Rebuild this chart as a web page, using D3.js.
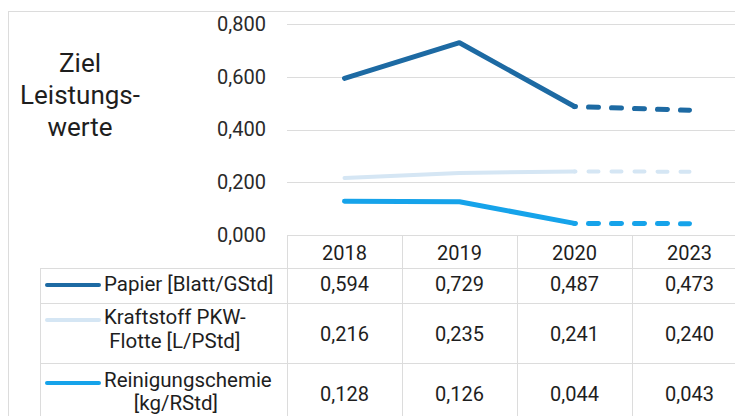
<!DOCTYPE html>
<html><head><meta charset="utf-8">
<script src="https://cdn.jsdelivr.net/npm/d3@7"></script>
<style>
html,body{margin:0;padding:0;background:#fff;}
svg{display:block;font-family:Roboto, "Noto Sans", sans-serif;}
</style></head>
<body>
<svg id="c" width="735" height="416"></svg>
<script>
const categories = ["2018","2019","2020","2023"];
const seriesNames = ["Papier [Blatt/GStd]", "Kraftstoff PKW-\nFlotte [L/PStd]", "Reinigungschemie\n[kg/RStd]"];
const papier = [0.594, 0.729, 0.487, 0.473];
const kraftstoff = [0.216, 0.235, 0.241, 0.240];
const reinigung = [0.128, 0.126, 0.044, 0.043];
const yTicks = [0, 0.2, 0.4, 0.6, 0.8];
const titleLines = ["Ziel", "Leistungs-", "werte"];

const series = [
  {name: seriesNames[0], values: papier, color: "#1d6aa3", width: 5},
  {name: seriesNames[1], values: kraftstoff, color: "#d5e6f4", width: 4},
  {name: seriesNames[2], values: reinigung, color: "#16a3ea", width: 5}
];

const svg = d3.select("#c");
const fmt = v => d3.format(".3f")(v).replace(".", ",");

const plotLeft = 287, colW = 115;
const x = d3.scaleBand().domain(categories).range([plotLeft, plotLeft + colW*categories.length]);
const y = d3.scaleLinear().domain([0, 0.8]).range([235, 24]);
const gridCol = "#dcdcdc";
const txtCol = "#1e1e1e";
const fs = 20;

// outer border
svg.append("rect").attr("x", 8.5).attr("y", 11.5).attr("width", 740).attr("height", 420)
  .attr("fill", "none").attr("stroke", gridCol);

// title
svg.append("text").attr("x", 80).attr("y", 72).attr("text-anchor", "middle")
  .attr("font-size", 26).attr("fill", txtCol)
  .selectAll("tspan").data(titleLines).join("tspan")
  .attr("x", 80).attr("dy", (d, i) => i ? 32 : 0).text(d => d);

// grid + y axis
const yAxis = d3.axisLeft(y).tickValues(yTicks).tickFormat(fmt).tickSize(0).tickPadding(21);
const ga = svg.append("g").attr("transform", `translate(${plotLeft},0)`).call(yAxis);
ga.select(".domain").remove();
ga.selectAll("text").attr("font-size", fs).attr("fill", "#2a2a2a").attr("font-family", "Roboto");
svg.append("g").selectAll("line").data(yTicks.filter(t => t > 0)).join("line")
  .attr("x1", plotLeft).attr("x2", 735).attr("y1", d => Math.round(y(d)) + 0.5).attr("y2", d => Math.round(y(d)) + 0.5)
  .attr("stroke", gridCol);

// lines
const cx = c => x(c) + x.bandwidth()/2;
series.forEach(s => {
  const pts = categories.map((c, i) => [cx(c), y(s.values[i])]);
  const line = d3.line();
  svg.append("path").attr("d", line(pts.slice(0, 3))).attr("fill", "none")
    .attr("stroke", s.color).attr("stroke-width", s.width)
    .attr("stroke-linejoin", "round").attr("stroke-linecap", "round");
  svg.append("path").attr("d", line(pts.slice(2))).attr("fill", "none")
    .attr("stroke", s.color).attr("stroke-width", s.width)
    .attr("stroke-linecap", "round").attr("stroke-dasharray", "10,13").attr("stroke-dashoffset", -14);
});

// data table
const tableLeft = 40;
const rowTops = [235, 268, 303, 363, 430];
const tbl = svg.append("g").attr("stroke", gridCol).attr("fill", "none");
tbl.append("line").attr("x1", plotLeft).attr("x2", 735).attr("y1", rowTops[0] + 0.5).attr("y2", rowTops[0] + 0.5);
rowTops.slice(1, 4).forEach(t => tbl.append("line").attr("x1", tableLeft).attr("x2", 735).attr("y1", t + 0.5).attr("y2", t + 0.5));
tbl.append("line").attr("x1", tableLeft + 0.5).attr("x2", tableLeft + 0.5).attr("y1", rowTops[1]).attr("y2", 416);
x.domain().forEach(c => {
  const xx = Math.round(x(c)) + 0.5;
  tbl.append("line").attr("x1", xx).attr("x2", xx).attr("y1", rowTops[0]).attr("y2", 416);
});

// header labels
svg.append("g").selectAll("text").data(categories).join("text")
  .attr("x", cx).attr("y", 252.5).attr("dy", "0.35em")
  .attr("text-anchor", "middle").attr("font-size", fs).attr("fill", txtCol).text(d => d);

// rows
const rowMids = [284, 334, 394];
const lineOffsets = [[0], [-17, 7], [-14, 9]];
series.forEach((s, si) => {
  const mid = rowMids[si];
  const g = svg.append("g");
  g.selectAll("text.v").data(s.values).join("text").attr("class", "v")
    .attr("x", (d, i) => cx(categories[i])).attr("y", mid).attr("dy", "0.35em")
    .attr("text-anchor", "middle").attr("font-size", fs).attr("fill", txtCol).text(fmt);
  const offs = lineOffsets[si];
  const ky = mid + offs[0] + (si === 0 ? 1 : 3);
  g.append("line").attr("x1", 47).attr("x2", 99).attr("y1", ky).attr("y2", ky)
    .attr("stroke", s.color).attr("stroke-width", 4).attr("stroke-linecap", "round");
  const lines = s.name.split("\n");
  const t = g.append("text").attr("font-size", 20.5).attr("fill", txtCol);
  const first = t.append("tspan").attr("x", 104).attr("y", mid + offs[0]).attr("dy", "0.35em").text(lines[0]);
  if (lines.length > 1) {
    const w = first.node().getComputedTextLength();
    t.append("tspan").attr("x", 104 + w/2 - (si === 2 ? 12 : 0)).attr("y", mid + offs[1]).attr("dy", "0.35em").attr("text-anchor", "middle").text(lines[1]);
  }
});
</script>
</body></html>
